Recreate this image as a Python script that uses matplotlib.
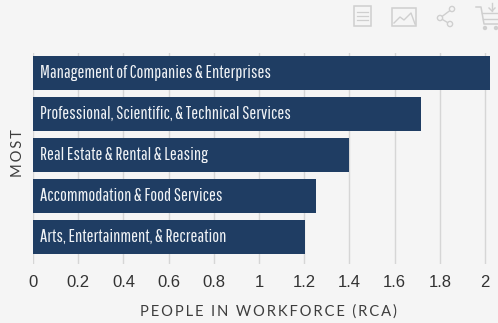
import matplotlib
matplotlib.use("Agg")
import matplotlib.pyplot as plt
from matplotlib.lines import Line2D
from matplotlib.patches import Circle, Rectangle

industries = [
    "Management of Companies & Enterprises",
    "Professional, Scientific, & Technical Services",
    "Real Estate & Rental & Leasing",
    "Accommodation & Food Services",
    "Arts, Entertainment, & Recreation",
]
rca_values = [2.02, 1.715, 1.40, 1.25, 1.205]
tick_values = [0, 0.2, 0.4, 0.6, 0.8, 1, 1.2, 1.4, 1.6, 1.8, 2]
tick_labels = ["0", "0.2", "0.4", "0.6", "0.8", "1", "1.2", "1.4", "1.6", "1.8", "2"]

W, H = 498, 323
BG = "#f5f5f5"
NAVY = "#1f3d63"
ICON = "#cfcfcf"
NARROW = ["Pathway Gothic One", "Sofia Sans Extra Condensed", "Asap Condensed", "DejaVu Sans"]


def spaced(text):
    # wide tracking for the axis titles
    return "\u2009".join(text).replace("\u2009 \u2009", "  ")


fig = plt.figure(figsize=(W / 100, H / 100), dpi=100, facecolor=BG)

# plot area in pixels: x 33-498, y 53-264
ax = fig.add_axes([33 / W, 1 - 264 / H, (W - 33) / W, 211 / H], facecolor=BG)
ypos = list(range(len(industries)))
ax.barh(ypos, rca_values, height=33.5 / 41, color=NAVY, zorder=3)
ax.set_xlim(0, (W - 33) / 226)
ax.set_ylim(4.66, -0.488)
ax.set_xticks(tick_values)
ax.set_xticklabels(tick_labels, family=["Liberation Sans", "Arimo"], fontsize=12, color="#333333")
ax.set_yticks([])
ax.tick_params(axis="x", length=0, pad=8)
ax.grid(axis="x", color="#d6d6d6", linewidth=1, zorder=1)
for s in ax.spines.values():
    s.set_visible(False)

for y, name in zip(ypos, industries):
    ax.text(0.032, y, name, color="#f0f3f6", va="center", ha="left", zorder=4,
            family=NARROW, fontsize=13.2)

fig.text(268 / W, 1 - 312 / H, spaced("PEOPLE IN WORKFORCE (RCA)"),
         family=["Lato", "DejaVu Sans"], fontsize=10.6, color="#3d3d3d", ha="center", va="center")
fig.text(17.5 / W, 1 - 153 / H, spaced("MOST"), family=["Lato", "DejaVu Sans"], fontsize=10.6,
         color="#3d3d3d", rotation=90, ha="center", va="center")

# toolbar glyphs on a pixel-scale overlay
ov = fig.add_axes([0, 0, 1, 1], facecolor="none")
ov.set_xlim(0, W)
ov.set_ylim(H, 0)
ov.axis("off")


def seg(xs, ys, lw=1.1):
    ov.add_line(Line2D(xs, ys, color=ICON, linewidth=lw))


# table icon
ov.add_patch(Rectangle((354, 6), 17, 20, fill=False, edgecolor=ICON, linewidth=1.1))
for yy in (12, 16, 20):
    seg([357, 368], [yy, yy], 0.9)
# image icon
ov.add_patch(Rectangle((392, 7.5), 24, 18, fill=False, edgecolor=ICON, linewidth=1.1))
seg([394, 400, 404, 411, 415], [23, 17, 20, 13, 24], 1.0)
# share icon
seg([452, 440, 450], [9, 18, 24], 1.0)
for cx, cy in ((452, 9), (440, 18), (450, 24)):
    ov.add_patch(Circle((cx, cy), 2.6, facecolor=BG, edgecolor=ICON, linewidth=1, zorder=3))
# cart icon
seg([476, 481, 484, 498], [7, 7, 24, 24], 1.1)
seg([482, 498], [13, 13], 1.0)
seg([483, 498], [19, 19], 1.0)
seg([492, 492], [3, 11], 1.0)
seg([489, 492, 495], [8, 11, 8], 1.0)
ov.add_patch(Circle((485, 28), 1.5, facecolor=ICON, edgecolor=ICON))
ov.add_patch(Circle((496, 28), 1.5, facecolor=ICON, edgecolor=ICON))

fig.savefig("out.png", dpi=100, facecolor=BG)
